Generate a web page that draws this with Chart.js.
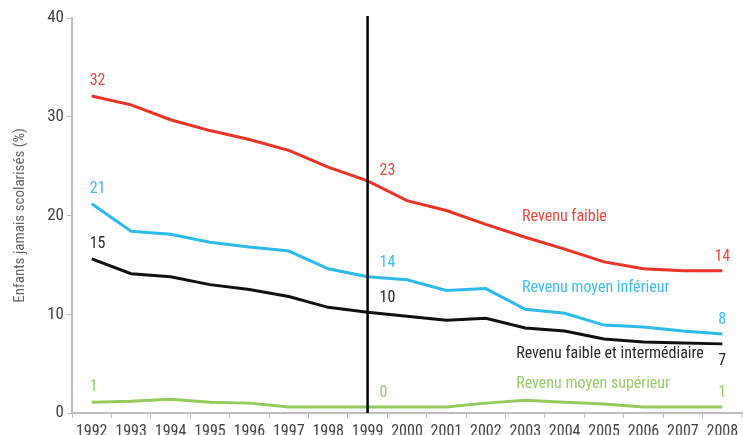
<!DOCTYPE html>
<html>
<head>
<meta charset="utf-8">
<script src="https://cdn.jsdelivr.net/npm/chart.js@4/dist/chart.umd.min.js"></script>
<style>
  body { margin: 0; background: #fff; }
  #chart { display: block; }
</style>
</head>
<body>
<canvas id="chart" width="743" height="435"></canvas>
<script>
// data
var years = ["1992","1993","1994","1995","1996","1997","1998","1999","2000","2001","2002","2003","2004","2005","2006","2007","2008"];
var revenuFaible = [32.1,31.2,29.7,28.6,27.7,26.6,24.9,23.5,21.5,20.5,19.1,17.8,16.6,15.3,14.6,14.4,14.4];
var revenuMoyenInf = [21.2,18.4,18.1,17.3,16.8,16.4,14.6,13.8,13.5,12.4,12.6,10.5,10.1,8.9,8.7,8.3,8.0];
var revenuFaibleInter = [15.6,14.1,13.8,13.0,12.5,11.8,10.7,10.2,9.8,9.4,9.6,8.6,8.3,7.5,7.2,7.1,7.0];
var revenuMoyenSup = [1.1,1.2,1.4,1.1,1.0,0.6,0.6,0.6,0.6,0.6,1.0,1.3,1.1,0.9,0.6,0.6,0.6];
// rounded values printed at 1992, 1999 and 2008
var shownFaible = ["32","23","14"];
var shownMoyenInf = ["21","14","8"];
var shownFaibleInter = ["15","10","7"];
var shownMoyenSup = ["1","0","1"];
var labelYears = ["1992","1999","2008"];
var markerYear = "1999";

var FONT = "'Liberation Sans Narrow', 'Roboto Condensed', 'Roboto', sans-serif";

var series = [
	{name:"Revenu faible", data:revenuFaible, shown:shownFaible, line:"#ec3326", text:"#ec4a3e", nameAt:{x:10.92, y:19.85}, below:false},
	{name:"Revenu moyen inférieur", data:revenuMoyenInf, shown:shownMoyenInf, line:"#2cbbeb", text:"#3cbfec", nameAt:{x:10.92, y:12.66}, below:false},
	{name:"Revenu faible et intermédiaire", data:revenuFaibleInter, shown:shownFaibleInter, line:"#111111", text:"#2a2a2a", nameAt:{x:10.77, y:5.97}, below:true},
	{name:"Revenu moyen supérieur", data:revenuMoyenSup, shown:shownMoyenSup, line:"#94cb5c", text:"#99ce66", nameAt:{x:10.77, y:2.94}, below:false}
];

// vertical black line at 1999
var markerLine = {
	id: "markerLine",
	afterDatasetsDraw: function(chart) {
		var x = chart.scales.x.getPixelForValue(years.indexOf(markerYear));
		var a = chart.chartArea;
		var ctx = chart.ctx;
		ctx.save();
		ctx.strokeStyle = "#000";
		ctx.lineWidth = 2.5;
		ctx.beginPath();
		ctx.moveTo(x, a.top - 2);
		ctx.lineTo(x, a.bottom);
		ctx.stroke();
		ctx.restore();
	}
};

// value labels and series names
var textLabels = {
	id: "textLabels",
	afterDatasetsDraw: function(chart) {
		var ctx = chart.ctx;
		var xs = chart.scales.x, ys = chart.scales.y;
		ctx.save();
		ctx.font = "16px " + FONT;
		ctx.textBaseline = "middle";
		series.forEach(function(s) {
			for (var k = 0; k < labelYears.length; k++) {
				var i = years.indexOf(labelYears[k]);
				var px = xs.getPixelForValue(i);
				var py = ys.getPixelForValue(s.data[i]);
				ctx.fillStyle = s.text;
				if (k == 0) {
					ctx.textAlign = "left";
					ctx.fillText(s.shown[k], px - 2, py - 15);
				} else if (k == 1) {
					ctx.textAlign = "left";
					ctx.fillText(s.shown[k], px + 12, py - (s.name == "Revenu faible" ? 10 : 14));
				} else {
					ctx.textAlign = "center";
					ctx.fillText(s.shown[k], px, s.below ? py + 17 : py - 14);
				}
			}
			ctx.textAlign = "left";
			ctx.fillText(s.name, xs.getPixelForValue(s.nameAt.x), ys.getPixelForValue(s.nameAt.y));
		});
		ctx.restore();
	}
};

var ctx = document.getElementById("chart").getContext("2d");
var chart = new Chart(ctx, {
	type: "line",
	data: {
		labels: years,
		datasets: series.map(function(s) {
			return {
				label: s.name,
				data: s.data,
				borderColor: s.line,
				backgroundColor: s.line,
				borderWidth: 3,
				pointRadius: 0,
				tension: 0,
				fill: false
			};
		})
	},
	options: {
		responsive: false,
		animation: false,
		devicePixelRatio: 1,
		layout: { padding: { top: 18, right: 1, left: 0, bottom: 0 } },
		plugins: { legend: { display: false }, tooltip: { enabled: false } },
		scales: {
			x: {
				offset: true,
				grid: { display: true, drawOnChartArea: false, offset: true, tickLength: 5, color: "#bdbdbd" },
				border: { display: true, color: "#bdbdbd", width: 2 },
				ticks: { color: "#444", font: { family: FONT, size: 16 }, padding: 4, maxRotation: 0, autoSkip: false },
				afterFit: function(scale) { scale.height = 22; }
			},
			y: {
				min: 0,
				max: 40,
				grid: { display: true, drawOnChartArea: false, tickLength: 5, color: "#bdbdbd" },
				border: { display: true, color: "#bdbdbd", width: 2 },
				ticks: { stepSize: 10, color: "#444", font: { family: FONT, size: 17 }, padding: 3 },
				title: { display: true, text: "Enfants jamais scolarisés (%)", color: "#666", font: { family: FONT, size: 15 }, padding: { top: 11, bottom: 0 } },
				afterFit: function(scale) { scale.width = 72; }
			}
		}
	},
	plugins: [markerLine, textLabels]
});
</script>
</body>
</html>
